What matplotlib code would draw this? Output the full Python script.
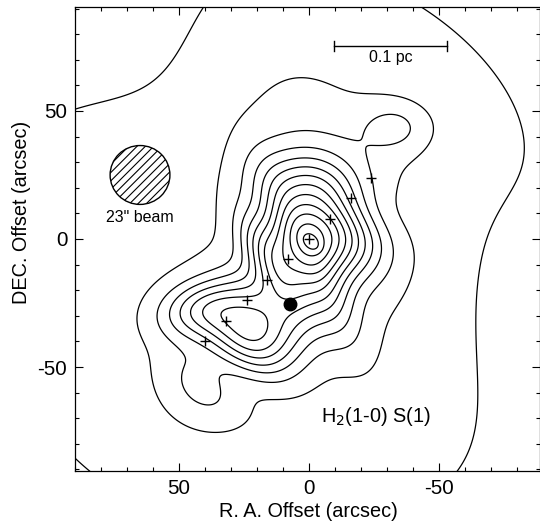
import numpy as np
import matplotlib
matplotlib.use("Agg")
import matplotlib.pyplot as plt
from matplotlib.patches import Ellipse

plt.rcParams['font.family'] = ['Liberation Sans', 'DejaVu Sans']
plt.rcParams['hatch.linewidth'] = 0.8

# ---- H2 1-0 S(1) surface brightness, described as elliptical Gaussian
#      components estimated from the contour map (arbitrary units) ----
comp_amp  = [1.16, 3.87, 13.50, 3.25, 6.86, -6.66, 1.62, 1.89, 1.64, -3.57, -0.54, 3.60]
comp_x    = [-0.96, 0.66, -4.25, 41.67, 24.03, -4.66, -33.72, 12.57, -6.54, 31.23, -45.97, 14.78]
comp_y    = [-1.34, -7.46, 8.52, -27.34, -38.88, 10.61, 43.78, -5.58, 21.48, -50.04, -4.11, -8.13]
comp_s1   = [1.74, 6.98, 11.78, 7.57, 18.87, 15.66, 7.64, 100.35, 38.88, 7.72, 29.13, 14.16]
comp_s2   = [2.64, 21.95, 14.67, 11.89, 13.42, 9.39, 10.21, 98.53, 22.79, 12.70, 188.96, 5.61]
comp_ang  = [132.89, 153.81, 127.63, 76.58, 132.74, 6.37, 91.60, 30.41, 64.36, 126.59, 125.60, 59.77]
contour_levels = [1, 2, 3, 4, 5, 6, 7, 8, 9, 10, 11, 12, 13]

# source positions (arcsec offsets)
cross_x = [0, -8, -16, -24, 8, 16, 24, 32, 40]
cross_y = [0, 8, 16, 24, -8, -16, -24, -32, -40]
dot_x = [7.5]
dot_y = [-25.5]

beam_x, beam_y, beam_d = 65.0, 25.0, 23.0
bar_x = [-9.7, -52.9]
bar_y = 75.4

xticks = [50, 0, -50]
xticklabels = ['50', '0', '-50']
yticks = [50, 0, -50]
yticklabels = ['50', '0', '-50']

# ---- field ----
gx = np.linspace(95, -95, 400)
gy = np.linspace(-95, 95, 400)
X, Y = np.meshgrid(gx, gy)
F = np.zeros_like(X)
for a, x0, y0, s1, s2, ang in zip(comp_amp, comp_x, comp_y, comp_s1, comp_s2, comp_ang):
    t = np.deg2rad(ang)
    dx, dy = X - x0, Y - y0
    u = dx*np.cos(t) + dy*np.sin(t)
    v = -dx*np.sin(t) + dy*np.cos(t)
    F += a*np.exp(-0.5*((u/s1)**2 + (v/s2)**2))

fig = plt.figure(figsize=(5.4, 5.25), dpi=100)
ax = fig.add_axes([75/540, 54/525, 465/540, 464/525])
ax.contour(X, Y, F, levels=contour_levels, colors='black', linewidths=0.9)
ax.plot(cross_x, cross_y, '+', color='black', ms=7, mew=1.0)
ax.plot(dot_x, dot_y, 'o', color='black', ms=9)

ax.add_patch(Ellipse((beam_x, beam_y), beam_d, beam_d, facecolor='none',
                     edgecolor='black', lw=1.0, hatch='////'))
ax.text(beam_x, beam_y - 16.5, '23" beam', ha='center', va='center', fontsize=11.5)

ax.plot(bar_x, [bar_y, bar_y], color='black', lw=1.0)
for bx in bar_x:
    ax.plot([bx, bx], [bar_y - 1.8, bar_y + 1.8], color='black', lw=1.0)
ax.text(np.mean(bar_x), bar_y - 4.5, '0.1 pc', ha='center', va='center', fontsize=11.5)

ax.text(-4.5, -69.4, r'H$_2$(1-0) S(1)', ha='left', va='center', fontsize=14.3)

ax.set_xlim(90, -88.8)
ax.set_ylim(-90.6, 90.6)
ax.set_xticks(xticks)
ax.set_xticklabels(xticklabels)
ax.set_yticks(yticks)
ax.set_yticklabels(yticklabels)
ax.set_xticks(np.arange(-80, 91, 10), minor=True)
ax.set_yticks(np.arange(-90, 91, 10), minor=True)
ax.tick_params(which='both', direction='in', top=True, right=True, width=0.8, labelsize=14.8)
ax.tick_params(which='major', length=6, pad=5.5)
ax.tick_params(which='minor', length=3.2)
for s in ax.spines.values():
    s.set_linewidth(0.9)

fig.text(308/540, 1 - 511.7/525, 'R. A. Offset (arcsec)', ha='center', va='center', fontsize=14.3)
fig.text(22/540, 1 - 212/525, 'DEC. Offset (arcsec)', ha='center', va='center', rotation=90, fontsize=14.3)

fig.savefig('out.png', dpi=100)
